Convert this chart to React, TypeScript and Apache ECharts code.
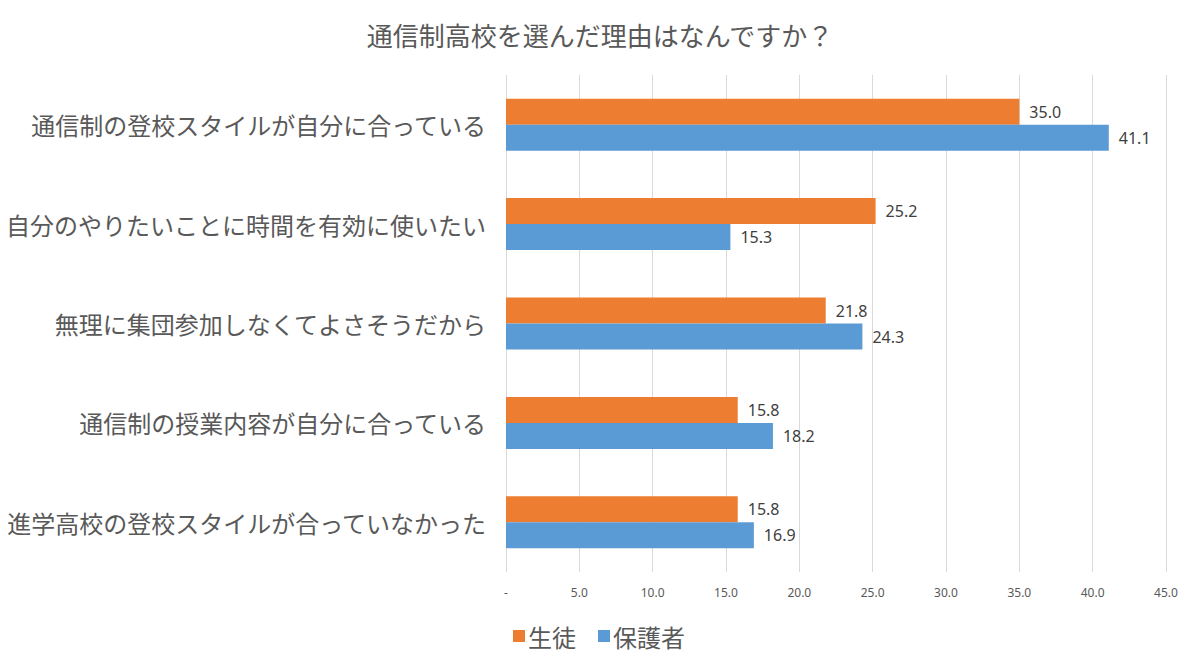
import React, { useEffect, useRef } from "react";
import * as echarts from "echarts";

const title = "通信制高校を選んだ理由はなんですか？";
const categories = [
  "通信制の登校スタイルが自分に合っている",
  "自分のやりたいことに時間を有効に使いたい",
  "無理に集団参加しなくてよさそうだから",
  "通信制の授業内容が自分に合っている",
  "進学高校の登校スタイルが合っていなかった",
];
const seriesNames = ["生徒", "保護者"];
const studentValues = [35.0, 25.2, 21.8, 15.8, 15.8];
const parentValues = [41.1, 15.3, 24.3, 18.2, 16.9];
const colors = ["#ED7D31", "#5B9BD5"];

export default function App() {
  const ref = useRef<HTMLDivElement>(null);
  useEffect(() => {
    if (!ref.current) return;
    const chart = echarts.init(ref.current, undefined, { renderer: "svg" });
    const jp = '"Noto Sans CJK JP", "Noto Sans", sans-serif';
    chart.setOption({
      animation: false,
      backgroundColor: "#ffffff",
      title: {
        text: title,
        left: "center",
        top: 16,
        textStyle: { fontFamily: jp, fontSize: 26, fontWeight: "normal", color: "#595959" },
      },
      legend: {
        data: seriesNames,
        left: 508,
        top: 619,
        itemWidth: 12,
        itemHeight: 12,
        itemGap: 22,
        icon: "rect",
        textStyle: { fontFamily: jp, fontSize: 24, color: "#595959", padding: [0, 0, 0, -2] },
      },
      grid: { left: 506, right: 34, top: 75, bottom: 93, containLabel: false },
      xAxis: {
        type: "value",
        min: 0,
        max: 45,
        interval: 5,
        axisLine: { show: false },
        axisTick: { show: false },
        splitLine: { show: true, lineStyle: { color: "#D9D9D9", width: 1 } },
        axisLabel: {
          color: "#595959",
          fontSize: 12,
          fontFamily: '"Noto Sans", sans-serif',
          margin: 14,
          formatter: (v: number) => (v === 0 ? "-" : v.toFixed(1)),
        },
      },
      yAxis: {
        type: "category",
        data: categories,
        inverse: true,
        axisLine: { show: false },
        axisTick: { show: false },
        axisLabel: { color: "#595959", fontSize: 24, fontFamily: jp, margin: 20 },
      },
      series: [
        {
          name: seriesNames[0],
          type: "bar",
          data: studentValues,
          barWidth: 26,
          barGap: "0%",
          itemStyle: { color: colors[0] },
          label: {
            show: true,
            position: "right",
            distance: 10,
            color: "#404040",
            fontSize: 16,
            fontFamily: '"Noto Sans", sans-serif',
            formatter: (p: any) => p.value.toFixed(1),
          },
        },
        {
          name: seriesNames[1],
          type: "bar",
          data: parentValues,
          barWidth: 26,
          barGap: "0%",
          itemStyle: { color: colors[1] },
          label: {
            show: true,
            position: "right",
            distance: 10,
            color: "#404040",
            fontSize: 16,
            fontFamily: '"Noto Sans", sans-serif',
            formatter: (p: any) => p.value.toFixed(1),
          },
        },
      ],
    });
    return () => chart.dispose();
  }, []);
  return <div ref={ref} style={{ width: 1200, height: 665, position: "absolute", left: 0, top: 0 }} />;
}
